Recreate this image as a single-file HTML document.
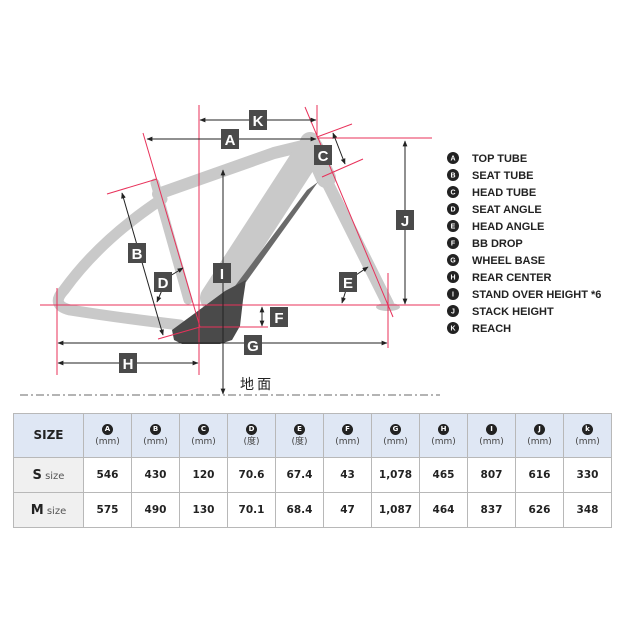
<!DOCTYPE html>
<html><head><meta charset="utf-8"><style>
body{margin:0;background:#fff;width:620px;height:620px;overflow:hidden;font-family:"Liberation Sans","Noto Sans CJK JP",sans-serif}
svg{position:absolute;left:0;top:0}
table{position:absolute;left:13px;top:413px;border-collapse:collapse;font-family:"DejaVu Sans","Liberation Sans","Noto Sans CJK JP",sans-serif}
td{border:1px solid #b8b8b8;text-align:center;padding:0;color:#222}
tr.h td{background:#dfe7f4;height:43px;font-size:9px;color:#444;line-height:13px}
tr.r td{height:34px;font-size:10.5px;font-weight:bold}
tr.r td.f{background:#f0f0f0;font-weight:normal;font-size:10px;color:#555}
.c{display:inline-block;width:11px;height:11px;border-radius:50%;background:#222;color:#fff;font-size:7px;line-height:11px;font-weight:bold}
</style></head><body>
<svg width="620" height="410" viewBox="0 0 620 410">
<g stroke="#c9c9c9" fill="none" stroke-linecap="round" stroke-linejoin="round">
<path d="M158 194 L274 153 L315 143" stroke-width="12"/>
<path d="M155 183 L188 300" stroke-width="9"/>
<path d="M162 199 Q100 240 64 290 Q50 305 70 310 Q120 318 180 325" stroke-width="11"/>
<path d="M310 150 L214 298" stroke-width="28"/>
<path d="M322 172 L388 304" stroke-width="12"/>
<path d="M310 142 L326 178" stroke-width="20"/>
</g>
<ellipse cx="388" cy="307" rx="12" ry="4" fill="#c9c9c9"/>
<path d="M307 190 L318 182 L246 282 L232 290Z" fill="#6a6a6a"/>
<path d="M172 330 L225 291 L246 280 L243 300 L240 326 L232 340 L220 344 L182 344 L174 340Z" fill="#4a4a4a"/>
<g stroke="#e8315a" stroke-width="1" fill="none">
<line x1="40" y1="305" x2="440" y2="305"/>
<line x1="317" y1="138" x2="432" y2="138"/>
<line x1="199" y1="105" x2="199" y2="375"/>
<line x1="317" y1="105" x2="317" y2="137"/>
<line x1="143" y1="133" x2="200" y2="327"/>
<line x1="107" y1="194" x2="157" y2="179"/>
<line x1="158" y1="339" x2="200" y2="327"/>
<line x1="200" y1="327" x2="268" y2="327"/>
<line x1="57" y1="288" x2="57" y2="375"/>
<line x1="388" y1="273" x2="388" y2="348"/>
<line x1="305" y1="107" x2="393" y2="317"/>
<line x1="317" y1="137" x2="352" y2="124"/>
<line x1="322" y1="177" x2="363" y2="159"/>
</g>
<line x1="20" y1="395" x2="440" y2="395" stroke="#888" stroke-width="1.2" stroke-dasharray="8 3 2 3"/>
<defs><marker id="m" viewBox="0 0 10 10" refX="9" refY="5" markerWidth="6" markerHeight="6" orient="auto-start-reverse"><path d="M0 1 L10 5 L0 9Z" fill="#222"/></marker></defs>
<g stroke="#222" stroke-width="1" marker-start="url(#m)" marker-end="url(#m)">
<line x1="200" y1="120" x2="316" y2="120"/>
<line x1="147" y1="139" x2="316" y2="139"/>
<line x1="122" y1="193" x2="163" y2="335"/>
<line x1="223" y1="170" x2="223" y2="394"/>
<line x1="262" y1="307" x2="262" y2="326"/>
<line x1="58" y1="343" x2="387" y2="343"/>
<line x1="58" y1="363" x2="198" y2="363"/>
<line x1="405" y1="141" x2="405" y2="304"/>
<line x1="333" y1="133" x2="345" y2="164"/>
</g>
<g stroke="#222" stroke-width="1" marker-end="url(#m)">
<line x1="162" y1="290" x2="157" y2="302"/>
<line x1="170" y1="276" x2="183" y2="268"/>
<line x1="346" y1="290" x2="342" y2="303"/>
<line x1="356" y1="275" x2="368" y2="267"/>
</g>
<g fill="#4a4a4a">
<rect x="249" y="110" width="18" height="20"/><rect x="221" y="129" width="18" height="20"/>
<rect x="314" y="145" width="18" height="20"/><rect x="128" y="243" width="18" height="20"/>
<rect x="154" y="272" width="18" height="20"/><rect x="213" y="263" width="18" height="20"/>
<rect x="270" y="307" width="18" height="20"/><rect x="244" y="335" width="18" height="20"/>
<rect x="119" y="353" width="18" height="20"/><rect x="396" y="210" width="18" height="20"/>
<rect x="339" y="272" width="18" height="20"/>
</g>
<g fill="#fff" font-weight="bold" font-size="15" text-anchor="middle" font-family="Liberation Sans,sans-serif">
<text x="258" y="126">K</text><text x="230" y="145">A</text><text x="323" y="161">C</text>
<text x="137" y="259">B</text><text x="163" y="288">D</text><text x="222" y="279">I</text>
<text x="279" y="323">F</text><text x="253" y="351">G</text><text x="128" y="369">H</text>
<text x="405" y="226">J</text><text x="348" y="288">E</text>
</g>
<text x="240" y="389" font-size="14" fill="#222" font-family="Noto Sans CJK JP,sans-serif">地 面</text>
<g font-family="Liberation Sans,sans-serif" font-weight="bold">
<g fill="#222">
<circle cx="453" cy="158" r="6"/><circle cx="453" cy="175" r="6"/><circle cx="453" cy="192" r="6"/><circle cx="453" cy="209" r="6"/><circle cx="453" cy="226" r="6"/><circle cx="453" cy="243" r="6"/><circle cx="453" cy="260" r="6"/><circle cx="453" cy="277" r="6"/><circle cx="453" cy="294" r="6"/><circle cx="453" cy="311" r="6"/><circle cx="453" cy="328" r="6"/>
</g>
<g fill="#fff" font-size="7" text-anchor="middle">
<text x="453" y="160.5">A</text><text x="453" y="177.5">B</text><text x="453" y="194.5">C</text><text x="453" y="211.5">D</text><text x="453" y="228.5">E</text><text x="453" y="245.5">F</text><text x="453" y="262.5">G</text><text x="453" y="279.5">H</text><text x="453" y="296.5">I</text><text x="453" y="313.5">J</text><text x="453" y="330.5">K</text>
</g>
<g fill="#222" font-size="11">
<text x="472" y="162">TOP TUBE</text><text x="472" y="179">SEAT TUBE</text><text x="472" y="196">HEAD TUBE</text><text x="472" y="213">SEAT ANGLE</text><text x="472" y="230">HEAD ANGLE</text><text x="472" y="247">BB DROP</text><text x="472" y="264">WHEEL BASE</text><text x="472" y="281">REAR CENTER</text><text x="472" y="298">STAND OVER HEIGHT *6</text><text x="472" y="315">STACK HEIGHT</text><text x="472" y="332">REACH</text>
</g></g>
</svg>
<table>
<tr class="h"><td style="width:69px;font-size:12px;font-weight:bold;color:#222">SIZE</td>
<td style="width:47px"><span class="c">A</span><br>(mm)</td><td style="width:47px"><span class="c">B</span><br>(mm)</td><td style="width:47px"><span class="c">C</span><br>(mm)</td><td style="width:47px"><span class="c">D</span><br>(度)</td><td style="width:47px"><span class="c">E</span><br>(度)</td><td style="width:47px"><span class="c">F</span><br>(mm)</td><td style="width:47px"><span class="c">G</span><br>(mm)</td><td style="width:47px"><span class="c">H</span><br>(mm)</td><td style="width:47px"><span class="c">I</span><br>(mm)</td><td style="width:47px"><span class="c">J</span><br>(mm)</td><td style="width:47px"><span class="c">k</span><br>(mm)</td></tr>
<tr class="r"><td class="f"><b style="font-size:13px;color:#222">S</b> size</td><td>546</td><td>430</td><td>120</td><td>70.6</td><td>67.4</td><td>43</td><td>1,078</td><td>465</td><td>807</td><td>616</td><td>330</td></tr>
<tr class="r"><td class="f"><b style="font-size:13px;color:#222">M</b> size</td><td>575</td><td>490</td><td>130</td><td>70.1</td><td>68.4</td><td>47</td><td>1,087</td><td>464</td><td>837</td><td>626</td><td>348</td></tr>
</table>
</body></html>
